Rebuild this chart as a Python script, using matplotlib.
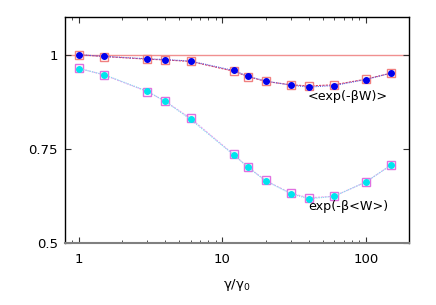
import matplotlib
matplotlib.use("Agg")
import matplotlib.pyplot as plt
from matplotlib.ticker import LogLocator, NullFormatter, FixedLocator, FixedFormatter

gamma = [1, 1.5, 3, 4, 6, 12, 15, 20, 30, 40, 60, 100, 150]
avg_exp = [1.0, 0.9955, 0.989, 0.987, 0.983, 0.958, 0.943, 0.930, 0.919, 0.914, 0.918, 0.934, 0.951]
avg_exp_sq = [1.0, 0.995, 0.988, 0.986, 0.982, 0.956, 0.942, 0.929, 0.920, 0.917, 0.920, 0.935, 0.951]
exp_avg = [0.963, 0.947, 0.903, 0.876, 0.828, 0.734, 0.702, 0.665, 0.631, 0.617, 0.624, 0.662, 0.707]
exp_avg_sq = [0.964, 0.946, 0.902, 0.876, 0.831, 0.735, 0.702, 0.666, 0.632, 0.620, 0.624, 0.662, 0.707]
yticks = [0.5, 0.75, 1.0]
yticklabels = ["0.5", "0.75", "1"]
xticks = [1, 10, 100]
xticklabels = ["1", "10", "100"]

fig = plt.figure(figsize=(4.36, 3.05), dpi=100)
ax = fig.add_axes([65/436, 1-243/305, (409-65)/436, (243-17)/305])
ax.set_xscale("log")
ax.set_xlim(0.8, 200)
ax.set_ylim(0.5, 1.1)

ax.axhline(1.0, color="#f09090", lw=1.0, zorder=1)

ax.plot(gamma, avg_exp_sq, ls=(0, (2, 1)), color="#e04060", lw=0.8,
        marker="s", ms=5.2, mfc="none", mec="#f08080", mew=1.0, zorder=2)
ax.plot(gamma, avg_exp, ls=(0, (1, 1)), color="#6060e0", lw=0.8,
        marker="o", ms=4.0, mfc="#0000ee", mec="#0000ee", zorder=3)
ax.plot(gamma, exp_avg_sq, ls=(0, (2, 1)), color="#f0a0f0", lw=0.8,
        marker="s", ms=5.2, mfc="none", mec="#e070e0", mew=1.0, zorder=2)
ax.plot(gamma, exp_avg, ls=(0, (1, 1)), color="#80e0f0", lw=0.8,
        marker="o", ms=4.0, mfc="#00e5ee", mec="#00e5ee", zorder=3)

ax.text(39.5, 0.889, "<exp(-βW)>", fontsize=9.2, va="center", ha="left")
ax.text(39.5, 0.598, "exp(-β<W>)", fontsize=9.2, va="center", ha="left")

ax.xaxis.set_major_locator(FixedLocator(xticks))
ax.xaxis.set_major_formatter(FixedFormatter(xticklabels))
ax.xaxis.set_minor_locator(LogLocator(base=10, subs=range(2, 10)))
ax.xaxis.set_minor_formatter(NullFormatter())
ax.yaxis.set_major_locator(FixedLocator(yticks))
ax.yaxis.set_major_formatter(FixedFormatter(yticklabels))

ax.tick_params(axis="both", which="both", direction="in", top=True, right=True,
               labelsize=9.5, color="#333333")
ax.tick_params(which="major", length=4, width=0.8)
ax.tick_params(which="minor", length=2, width=0.6)
ax.tick_params(axis="x", pad=7)
ax.tick_params(axis="y", pad=5)

for s in ["left", "top", "right"]:
    ax.spines[s].set_color("black")
    ax.spines[s].set_linewidth(1.0)
ax.spines["bottom"].set_color("#808080")
ax.spines["bottom"].set_linewidth(1.5)

ax.set_xlabel("γ/γ$_0$", fontsize=9.5, labelpad=8)

fig.savefig("out.png", dpi=100)
